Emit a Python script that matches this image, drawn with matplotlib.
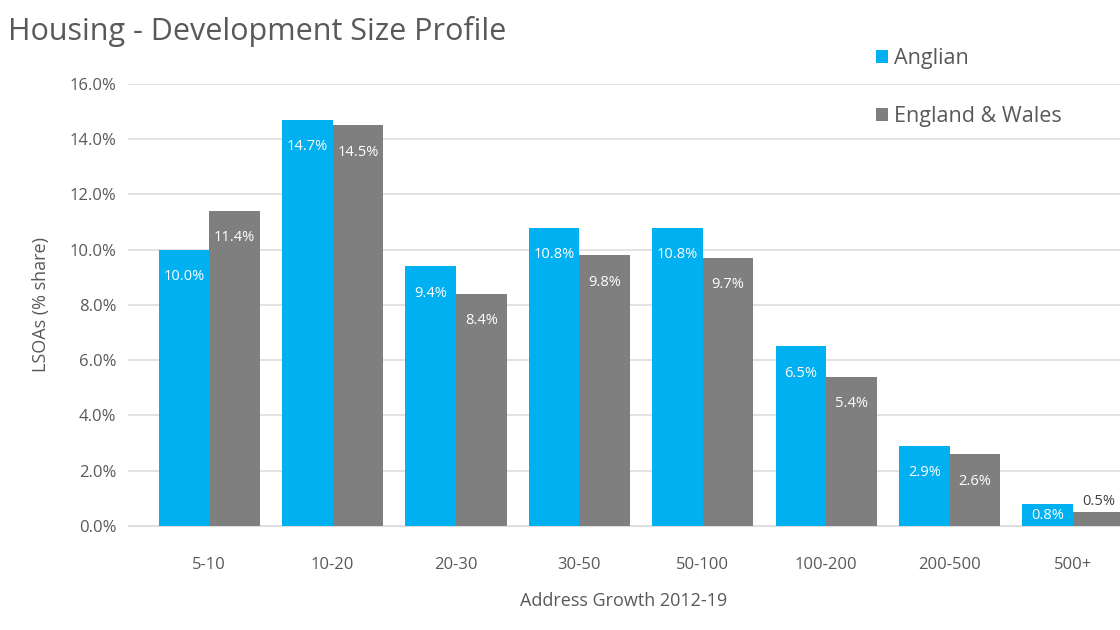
import matplotlib.pyplot as plt
import numpy as np

plt.rcParams['font.family'] = ['Open Sans', 'DejaVu Sans']

categories = ['5-10', '10-20', '20-30', '30-50', '50-100', '100-200', '200-500', '500+']
anglian = [10.0, 14.7, 9.4, 10.8, 10.8, 6.5, 2.9, 0.8]
england_wales = [11.4, 14.5, 8.4, 9.8, 9.7, 5.4, 2.6, 0.5]

blue = '#00B0F0'
grey = '#7F7F7F'
text_grey = '#595959'

fig = plt.figure(figsize=(11.2, 6.3), dpi=100)
ax = fig.add_axes([0.114, 0.165, 0.886, 0.702])

x = np.arange(len(categories))
w = 0.41
b1 = ax.bar(x - w / 2, anglian, w, color=blue, label='Anglian', zorder=3)
b2 = ax.bar(x + w / 2, england_wales, w, color=grey, label='England & Wales', zorder=3)

# value labels just inside the top of each bar
for bars, vals in ((b1, anglian), (b2, england_wales)):
    for rect, v in zip(bars, vals):
        cx = rect.get_x() + rect.get_width() / 2
        if v < 0.6:
            ax.annotate(f'{v:.1f}%', (cx, v), xytext=(0, 2), textcoords='offset points',
                        ha='center', va='bottom', fontsize=10.5, color='#404040', zorder=4)
        elif v < 1.5:
            ax.annotate(f'{v:.1f}%', (cx, 0), xytext=(0, 2), textcoords='offset points',
                        ha='center', va='bottom', fontsize=10.5, color='white', zorder=4)
        else:
            ax.annotate(f'{v:.1f}%', (cx, v), xytext=(0, -14), textcoords='offset points',
                        ha='center', va='top', fontsize=10.5, color='white', zorder=4)

ax.set_xlim(-0.66, 7.38)
ax.set_ylim(0, 16)
ax.set_yticks(np.arange(0, 16.1, 2))
ax.set_yticklabels([f'{t:.1f}%' for t in np.arange(0, 16.1, 2)])
ax.set_xticks(x)
ax.set_xticklabels(categories)

ax.yaxis.grid(True, color='#DDDDDD', linewidth=1.2, zorder=0)
ax.set_axisbelow(True)
for s in ('top', 'right', 'left'):
    ax.spines[s].set_visible(False)
ax.spines['bottom'].set_color('#DDDDDD')
ax.tick_params(axis='both', length=0, colors=text_grey, labelsize=12)
ax.tick_params(axis='x', pad=22)
ax.tick_params(axis='y', pad=8)

ax.set_ylabel('LSOAs (% share)', fontsize=13, color=text_grey, labelpad=14)
ax.set_xlabel('Address Growth 2012-19', fontsize=13, color=text_grey, labelpad=14)

fig.text(0.007, 0.95, 'Housing - Development Size Profile', fontsize=22,
         color=text_grey, ha='left', va='center')

leg = fig.legend(handles=[b1, b2], loc='upper left', bbox_to_anchor=(0.765, 0.955),
                 frameon=False, fontsize=15.5, handlelength=0.55, handleheight=0.55,
                 handletextpad=0.3, labelspacing=1.75, labelcolor=text_grey)

fig.savefig('out.png', dpi=100)
